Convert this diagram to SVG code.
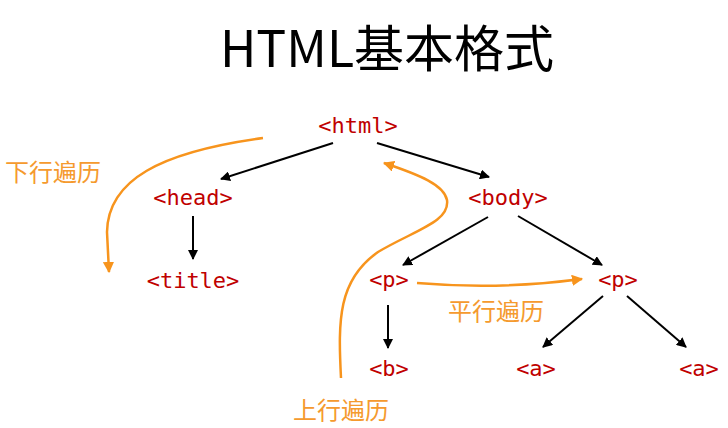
<svg xmlns="http://www.w3.org/2000/svg" width="728" height="428" viewBox="0 0 728 428">
<style>
.tag{font-family:"DejaVu Sans Mono","Liberation Mono",monospace;font-size:22px;fill:#c00000;text-anchor:middle}
.lbl{font-family:"Noto Sans CJK SC",sans-serif;font-size:24px;fill:#f59a2e}
.title{font-family:"Noto Sans CJK SC",sans-serif;font-size:50px;fill:#000}
.edge{stroke:#000;stroke-width:2;fill:none;marker-end:url(#ah)}
.trav{stroke:#f7941d;stroke-width:2.5;fill:none;marker-end:url(#oh)}
</style>
<defs>
<marker id="ah" viewBox="0 0 10 10" refX="9" refY="5" markerWidth="5" markerHeight="5" orient="auto" markerUnits="strokeWidth"><path d="M0,0 L10,5 L0,10 z" fill="#000"/></marker>
<marker id="oh" viewBox="0 0 10 10" refX="9" refY="5" markerWidth="4.5" markerHeight="4.5" orient="auto" markerUnits="strokeWidth"><path d="M0,0 L10,5 L0,10 z" fill="#f7941d"/></marker>
</defs>
<rect width="728" height="428" fill="#fff"/>
<text class="title" x="387" y="67" text-anchor="middle">HTML基本格式</text>
<g id="connectors">
<line class="edge" x1="333" y1="143" x2="221" y2="179"/>
<line class="edge" x1="377" y1="143" x2="489" y2="177"/>
<line class="edge" x1="193" y1="216" x2="193" y2="259"/>
<line class="edge" x1="488" y1="217" x2="403" y2="265"/>
<line class="edge" x1="518" y1="216" x2="602" y2="265"/>
<line class="edge" x1="388" y1="305" x2="388" y2="348"/>
<line class="edge" x1="603" y1="296" x2="543" y2="347"/>
<line class="edge" x1="627" y1="296" x2="686" y2="347"/>
<path class="trav" d="M263,138 C160,152 108,180 107,232 L109,272"/>
<path class="trav" d="M341,378 C338,320 338,280 378,252 C415,230 450,222 447,200 C444,185 420,175 384,163"/>
<path class="trav" d="M417,283 Q500,290 582,279"/>
</g>
<g id="n-html"><text class="tag" x="358" y="133">&lt;html&gt;</text></g>
<g id="n-head"><text class="tag" x="193" y="205">&lt;head&gt;</text></g>
<g id="n-title"><text class="tag" x="193" y="288">&lt;title&gt;</text></g>
<g id="n-body"><text class="tag" x="508" y="205">&lt;body&gt;</text></g>
<g id="n-p1"><text class="tag" x="389" y="287">&lt;p&gt;</text></g>
<g id="n-p2"><text class="tag" x="618" y="287">&lt;p&gt;</text></g>
<g id="n-b"><text class="tag" x="389" y="376">&lt;b&gt;</text></g>
<g id="n-a1"><text class="tag" x="536" y="376">&lt;a&gt;</text></g>
<g id="n-a2"><text class="tag" x="699" y="376">&lt;a&gt;</text></g>
<g id="labels">
<text class="lbl" x="5" y="181">下行遍历</text>
<text class="lbl" x="293" y="419">上行遍历</text>
<text class="lbl" x="448" y="320">平行遍历</text>
</g>
</svg>
